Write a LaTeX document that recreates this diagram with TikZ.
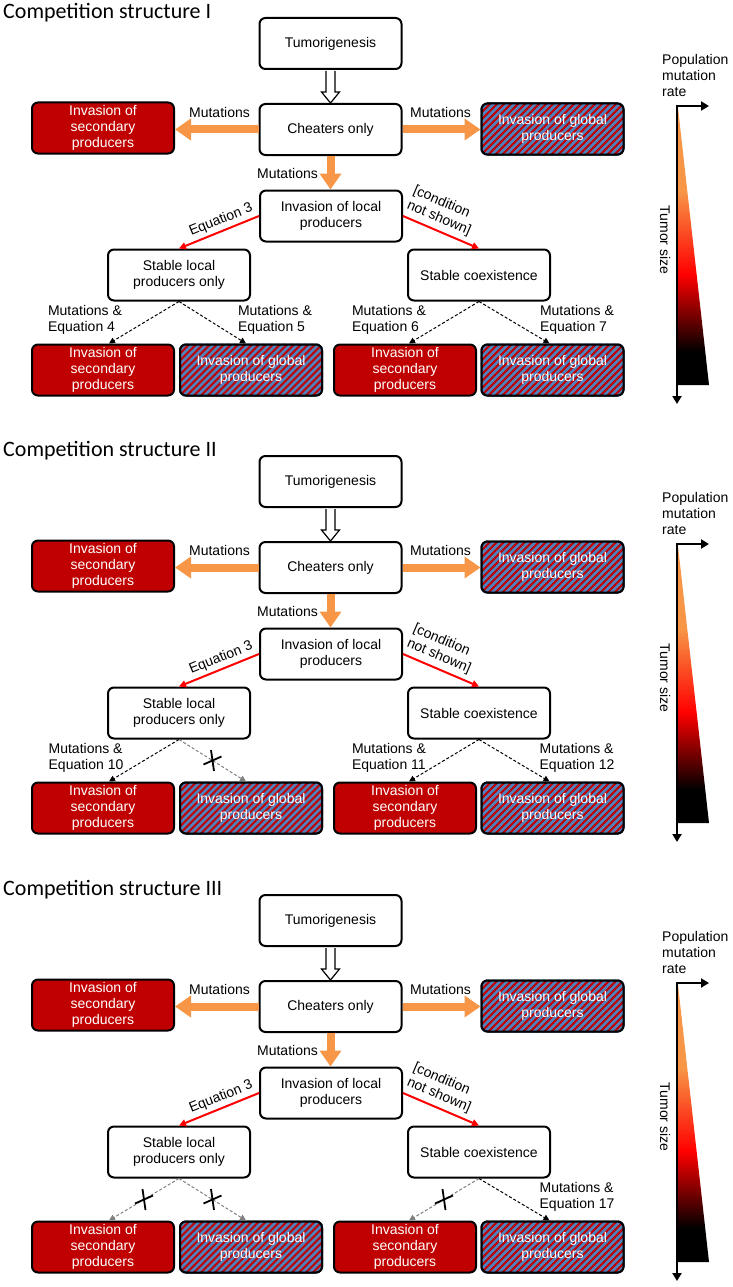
\documentclass[tikz,border=0pt]{standalone}
\usepackage{fontspec}
\setmainfont{Liberation Sans}
\newfontfamily\titlefont{Carlito}
\usetikzlibrary{calc,arrows.meta}
\definecolor{dred}{RGB}{192,0,0}
\definecolor{hblue}{RGB}{79,129,189}
\definecolor{orng}{RGB}{247,150,70}
\definecolor{arrgray}{RGB}{128,128,128}
\pgfdeclareverticalshading{tumorshade}{100bp}{color(0bp)=(black); color(31bp)=(black); color(45bp)=(red); color(60bp)=(orng); color(100bp)=(orng)}

\newcommand\xmarkat[1]{%
  \draw[crossln] ($(#1)+(-1.5,-10.5)$) -- ($(#1)+(1.5,10.5)$);
  \draw[crossln] ($(#1)+(-9,4)$) -- ($(#1)+(9,-4)$);}

% striped box: #1 name, #2 x, #3 y, #4 text
\newcommand\hatchbox[4]{%
  \node[box,fill=dred] (#1bg) at (#2,#3) {};
  \begin{scope}
    \clip[rounded corners=6pt] (#1bg.south west) rectangle (#1bg.north east);
    \foreach \k in {-16,...,16}
      \draw[hblue,line width=2.6pt] ($(#1bg.center)+(\k*7-30,30)$) -- ++(60,-60);
  \end{scope}
  \node[box,text=white] (#1) at (#2,#3) {#4};}

% #1 prefix, #2 title numeral, #3 vertical offset
\newcommand\commonpart[3]{%
  \node[titletext,anchor=base west] (#1title) at (3,18.5+#3) {Competition structure #2};
  \node[wbox] (#1tum) at (330.5,43.5+#3) {Tumorigenesis};
  \node[wbox] (#1che) at (330.5,129.5+#3) {Cheaters only};
  \node[rbox] (#1sec) at (103,128+#3) {Invasion of\\secondary\\producers};
  \hatchbox{#1glo}{552.5}{129+#3}{Invasion of global\\producers}
  \node[wbox] (#1loc) at (331,216+#3) {Invasion of local\\producers};
  \node[wbox] (#1sl) at (179,275+#3) {Stable local\\producers only};
  \node[wbox] (#1sc) at (479,275+#3) {Stable coexistence};
  \node[rbox] (#1ba) at (103,370+#3) {Invasion of\\secondary\\producers};
  \hatchbox{#1bb}{251}{370+#3}{Invasion of global\\producers}
  \node[rbox] (#1bc) at (405,370+#3) {Invasion of\\secondary\\producers};
  \hatchbox{#1bd}{552.5}{370+#3}{Invasion of global\\producers}
  % hollow arrow
  \draw[line width=1.2pt,fill=white]
    ($(#1tum.south)+(-4.5,1)$) -- ($(#1che.north)+(-4.5,-11)$) -- ($(#1che.north)+(-9,-11)$)
    -- (#1che.north) -- ($(#1che.north)+(9,-11)$) -- ($(#1che.north)+(4.5,-11)$)
    -- ($(#1tum.south)+(4.5,1)$);
  % orange arrows
  \draw[oarr] (#1che.west) -- (#1che.west -| #1sec.east);
  \draw[oarr] (#1che.east) -- (#1che.east -| #1glo.west);
  \draw[oarr] (#1che.south) -- (#1che.south |- #1loc.north);
  \node[lab] (#1m1) at (219.5,112+#3) {Mutations};
  \node[lab] (#1m2) at (440.5,112+#3) {Mutations};
  \node[lab] (#1m3) at (287.5,173+#3) {Mutations};
  % red arrows
  \draw[rarr] (#1loc.west) -- (#1sl.north);
  \draw[rarr] (#1loc.east) -- (#1sc.north);
  \node[lab,rotate=22] (#1eq) at (221,220+#3) {Equation 3};
  \node[lab,rotate=-23] (#1cond) at (442,211+#3) {[condition\\not shown]};
  % gradient bar
  \path[shading=tumorshade] (678,108+#3) -- (709,385+#3) -- (678,385+#3) -- cycle;
  \coordinate (#1gc) at (677,106+#3);
  \coordinate (#1gr) at (709,106+#3);
  \coordinate (#1gb) at (677,404+#3);
  \draw[barr] ($(#1gc)+(-1,0)$) -- (#1gr);
  \draw[barr] (#1gc) -- (#1gb);
  \node[lab,rotate=-90] (#1ts) at (665,240+#3) {Tumor size};
  \node[lab,anchor=north west] (#1pop) at (662,54.5+#3) {Population\\mutation\\rate};
}

\begin{document}
\begin{tikzpicture}[x=1pt,y=-1pt,
  box/.style={draw=black,line width=2pt,rounded corners=6pt,minimum width=142pt,minimum height=51pt,inner sep=0pt,align=center,font=\fontsize{14}{16}\selectfont},
  wbox/.style={box,fill=white},
  rbox/.style={box,fill=dred,text=white},
  lab/.style={font=\fontsize{14}{16}\selectfont,inner sep=0pt,align=left},
  titletext/.style={font=\titlefont\fontsize{22}{26}\selectfont,inner sep=0pt},
  oarr/.style={draw=orng,line width=8pt,-{Triangle[length=16pt,width=21pt]}},
  rarr/.style={draw=red,line width=2pt,-{Triangle[length=7pt,width=7pt]}},
  darr/.style={draw=black,line width=1pt,dash pattern=on 3pt off 2pt,-{Triangle[length=6pt,width=6pt]}},
  garr/.style={darr,draw=arrgray,-{Triangle[length=6pt,width=6pt,fill=arrgray]}},
  barr/.style={draw=black,line width=2pt,-{Triangle[length=8pt,width=9pt]}},
  crossln/.style={draw=black,line width=1.8pt},
]
\useasboundingbox (0,0) rectangle (733,1287);

% ---------- Section I ----------
\commonpart{a}{I}{0}
\draw[darr] (asl.south) -- ($(aba.north)+(6,0)$);
\draw[darr] (asl.south) -- ($(abb.north)+(-5,0)$);
\draw[darr] (asc.south) -- ($(abc.north)+(4,0)$);
\draw[darr] (asc.south) -- ($(abd.north)+(-3,0)$);
\node[lab] (al1) at (85,320) {Mutations \&\\Equation 4};
\node[lab] (al2) at (275,320) {Mutations \&\\Equation 5};
\node[lab] (al3) at (389,320) {Mutations \&\\Equation 6};
\node[lab] (al4) at (577,320) {Mutations \&\\Equation 7};

% ---------- Section II ----------
\commonpart{b}{II}{438}
\draw[darr] (bsl.south) -- ($(bba.north)+(6,0)$);
\draw[garr] (bsl.south) -- coordinate (bx1) ($(bbb.north)+(-5,0)$);
\xmarkat{bx1}
\draw[darr] (bsc.south) -- ($(bbc.north)+(4,0)$);
\draw[darr] (bsc.south) -- ($(bbd.north)+(-3,0)$);
\node[lab] (bl1) at (86,758) {Mutations \&\\Equation 10};
\node[lab] (bl3) at (389,758) {Mutations \&\\Equation 11};
\node[lab] (bl4) at (577,758) {Mutations \&\\Equation 12};

% ---------- Section III ----------
\commonpart{c}{III}{877}
\draw[garr] (csl.south) -- coordinate (cx1) ($(cba.north)+(6,0)$);
\xmarkat{cx1}
\draw[garr] (csl.south) -- coordinate (cx2) ($(cbb.north)+(-5,0)$);
\xmarkat{cx2}
\draw[garr] (csc.south) -- coordinate (cx3) ($(cbc.north)+(4,0)$);
\xmarkat{cx3}
\draw[darr] (csc.south) -- ($(cbd.north)+(-3,0)$);
\node[lab] (cl4) at (577,1197) {Mutations \&\\Equation 17};
\end{tikzpicture}
\end{document}
